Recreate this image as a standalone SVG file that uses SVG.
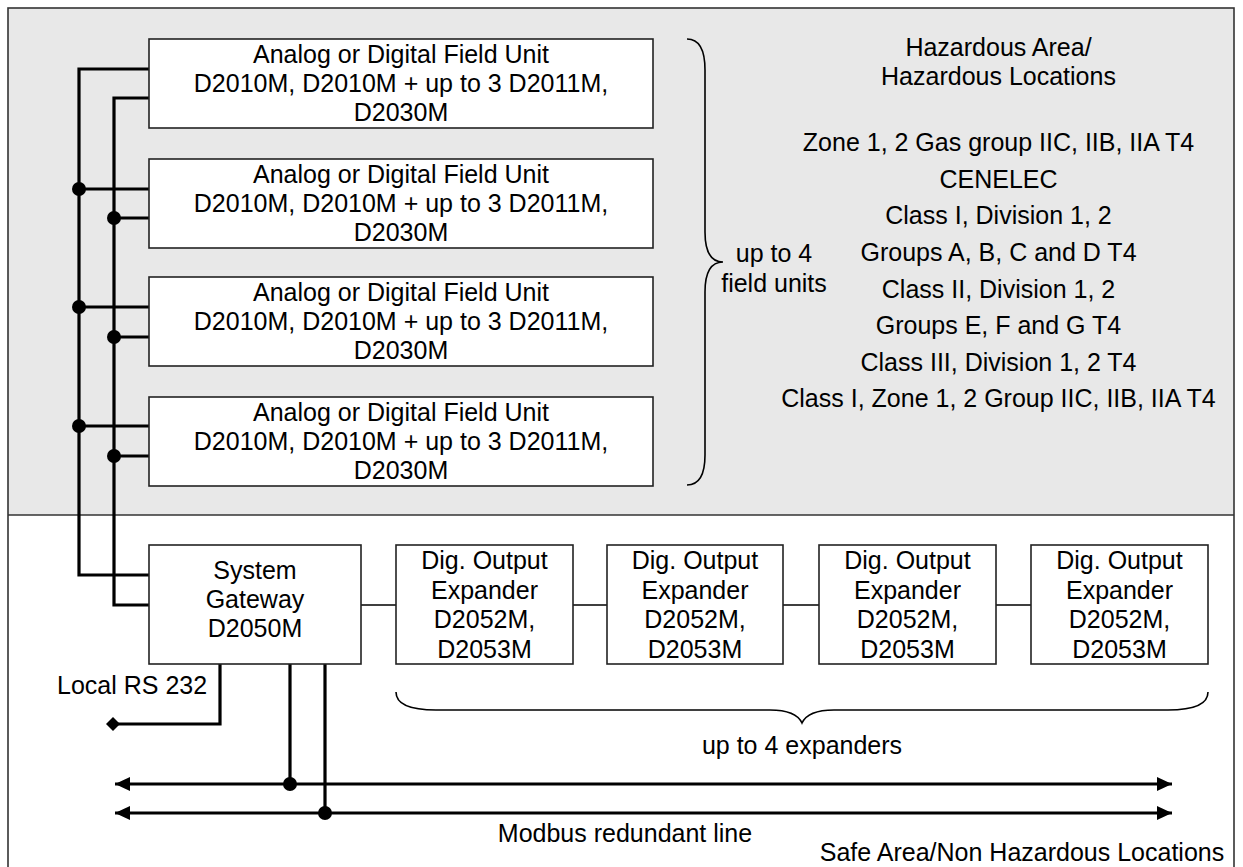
<svg xmlns="http://www.w3.org/2000/svg" width="1243" height="867" viewBox="0 0 1243 867">
<style>
text{font-family:"Liberation Sans",Arial,sans-serif;font-size:25px;fill:#000}
.c{text-anchor:middle}
.box{fill:#fff;stroke:#222;stroke-width:1.6}
.bus{fill:none;stroke:#000;stroke-width:3.2}
.thin{fill:none;stroke:#000;stroke-width:1.6}
.brace{fill:none;stroke:#000;stroke-width:1.6}
</style>
<defs>
<marker id="arr" viewBox="0 0 15 14" refX="15" refY="7" markerWidth="15" markerHeight="14" markerUnits="userSpaceOnUse" orient="auto-start-reverse">
<path d="M0,0 L15,7 L0,14 Z" fill="#000"/>
</marker>
</defs>
<g id="areas">
<rect x="8" y="8" width="1226" height="507" fill="#e8e8e8"/>
<rect x="8" y="515" width="1226" height="360" fill="#fff"/>
<rect x="8" y="8" width="1226" height="870" fill="none" stroke="#333" stroke-width="1.6"/>
<line x1="8" y1="515" x2="1234" y2="515" stroke="#333" stroke-width="1.6"/>
</g>
<g id="connectors">
<path class="bus" d="M149,69 H79 V575 H149"/>
<path class="bus" d="M149,98 H114 V605 H149"/>
<path class="bus" d="M79,189 H149 M114,218 H149 M79,307 H149 M114,337 H149 M79,426 H149 M114,456 H149"/>
<circle cx="79" cy="189" r="7"/><circle cx="114" cy="218" r="7"/>
<circle cx="79" cy="307" r="7"/><circle cx="114" cy="337" r="7"/>
<circle cx="79" cy="426" r="7"/><circle cx="114" cy="456" r="7"/>
<path class="thin" d="M361,605 H396 M573,605 H607 M783,605 H819 M996,605 H1031"/>
<path class="bus" d="M220,664 V724 H113"/>
<path d="M106,724 L113,717 L120,724 L113,731 Z" fill="#000"/>
<line class="bus" x1="115" y1="784" x2="1172" y2="784" marker-start="url(#arr)" marker-end="url(#arr)"/>
<line class="bus" x1="115" y1="813" x2="1172" y2="813" marker-start="url(#arr)" marker-end="url(#arr)"/>
<path class="bus" d="M290,664 V784 M325,664 V813"/>
<circle cx="290" cy="784" r="7"/><circle cx="325" cy="813" r="7"/>
<path class="brace" d="M687,39 Q705,39 705,70 L705,232 Q705,262 723,262 Q705,262 705,292 L705,455 Q705,485 687,485"/>
<path class="brace" d="M396,692 Q396,710 436,710 L770,710 Q796,710 802,723 Q808,710 834,710 L1168,710 Q1208,710 1208,692"/>
</g>
<g id="fu1">
<rect class="box" x="149" y="39" width="504" height="89"/>
<text class="c" x="401" y="63">Analog or Digital Field Unit</text>
<text class="c" x="401" y="92">D2010M, D2010M + up to 3 D2011M,</text>
<text class="c" x="401" y="121">D2030M</text>
</g>
<g id="fu2">
<rect class="box" x="149" y="159" width="504" height="89"/>
<text class="c" x="401" y="183">Analog or Digital Field Unit</text>
<text class="c" x="401" y="212">D2010M, D2010M + up to 3 D2011M,</text>
<text class="c" x="401" y="241">D2030M</text>
</g>
<g id="fu3">
<rect class="box" x="149" y="277" width="504" height="89"/>
<text class="c" x="401" y="301">Analog or Digital Field Unit</text>
<text class="c" x="401" y="330">D2010M, D2010M + up to 3 D2011M,</text>
<text class="c" x="401" y="359">D2030M</text>
</g>
<g id="fu4">
<rect class="box" x="149" y="397" width="504" height="89"/>
<text class="c" x="401" y="421">Analog or Digital Field Unit</text>
<text class="c" x="401" y="450">D2010M, D2010M + up to 3 D2011M,</text>
<text class="c" x="401" y="479">D2030M</text>
</g>
<g id="fu-label">
<text class="c" x="774" y="262">up to 4</text>
<text class="c" x="774" y="292">field units</text>
</g>
<g id="hazard">
<text class="c" x="998.5" y="56">Hazardous Area/</text>
<text class="c" x="998.5" y="85">Hazardous Locations</text>
<text class="c" x="998.5" y="151">Zone 1, 2 Gas group IIC, IIB, IIA T4</text>
<text class="c" x="998.5" y="187.5">CENELEC</text>
<text class="c" x="998.5" y="224">Class I, Division 1, 2</text>
<text class="c" x="998.5" y="261">Groups A, B, C and D T4</text>
<text class="c" x="998.5" y="297.5">Class II, Division 1, 2</text>
<text class="c" x="998.5" y="334">Groups E, F and G T4</text>
<text class="c" x="998.5" y="371">Class III, Division 1, 2 T4</text>
<text class="c" x="998.5" y="407">Class I, Zone 1, 2 Group IIC, IIB, IIA T4</text>
</g>
<g id="gateway">
<rect class="box" x="149" y="545" width="212" height="119"/>
<text class="c" x="255" y="579">System</text>
<text class="c" x="255" y="608">Gateway</text>
<text class="c" x="255" y="637">D2050M</text>
</g>
<g id="exp1">
<rect class="box" x="396" y="545" width="177" height="119"/>
<text class="c" x="484.5" y="569">Dig. Output</text>
<text class="c" x="484.5" y="598.5">Expander</text>
<text class="c" x="484.5" y="628">D2052M,</text>
<text class="c" x="484.5" y="657.5">D2053M</text>
</g>
<g id="exp2">
<rect class="box" x="607" y="545" width="176" height="119"/>
<text class="c" x="695" y="569">Dig. Output</text>
<text class="c" x="695" y="598.5">Expander</text>
<text class="c" x="695" y="628">D2052M,</text>
<text class="c" x="695" y="657.5">D2053M</text>
</g>
<g id="exp3">
<rect class="box" x="819" y="545" width="177" height="119"/>
<text class="c" x="907.5" y="569">Dig. Output</text>
<text class="c" x="907.5" y="598.5">Expander</text>
<text class="c" x="907.5" y="628">D2052M,</text>
<text class="c" x="907.5" y="657.5">D2053M</text>
</g>
<g id="exp4">
<rect class="box" x="1031" y="545" width="177" height="119"/>
<text class="c" x="1119.5" y="569">Dig. Output</text>
<text class="c" x="1119.5" y="598.5">Expander</text>
<text class="c" x="1119.5" y="628">D2052M,</text>
<text class="c" x="1119.5" y="657.5">D2053M</text>
</g>
<g id="labels">
<text x="57" y="694">Local RS 232</text>
<text class="c" x="802" y="754">up to 4 expanders</text>
<text class="c" x="625" y="842">Modbus redundant line</text>
<text class="c" x="1022" y="861">Safe Area/Non Hazardous Locations</text>
</g>
</svg>
